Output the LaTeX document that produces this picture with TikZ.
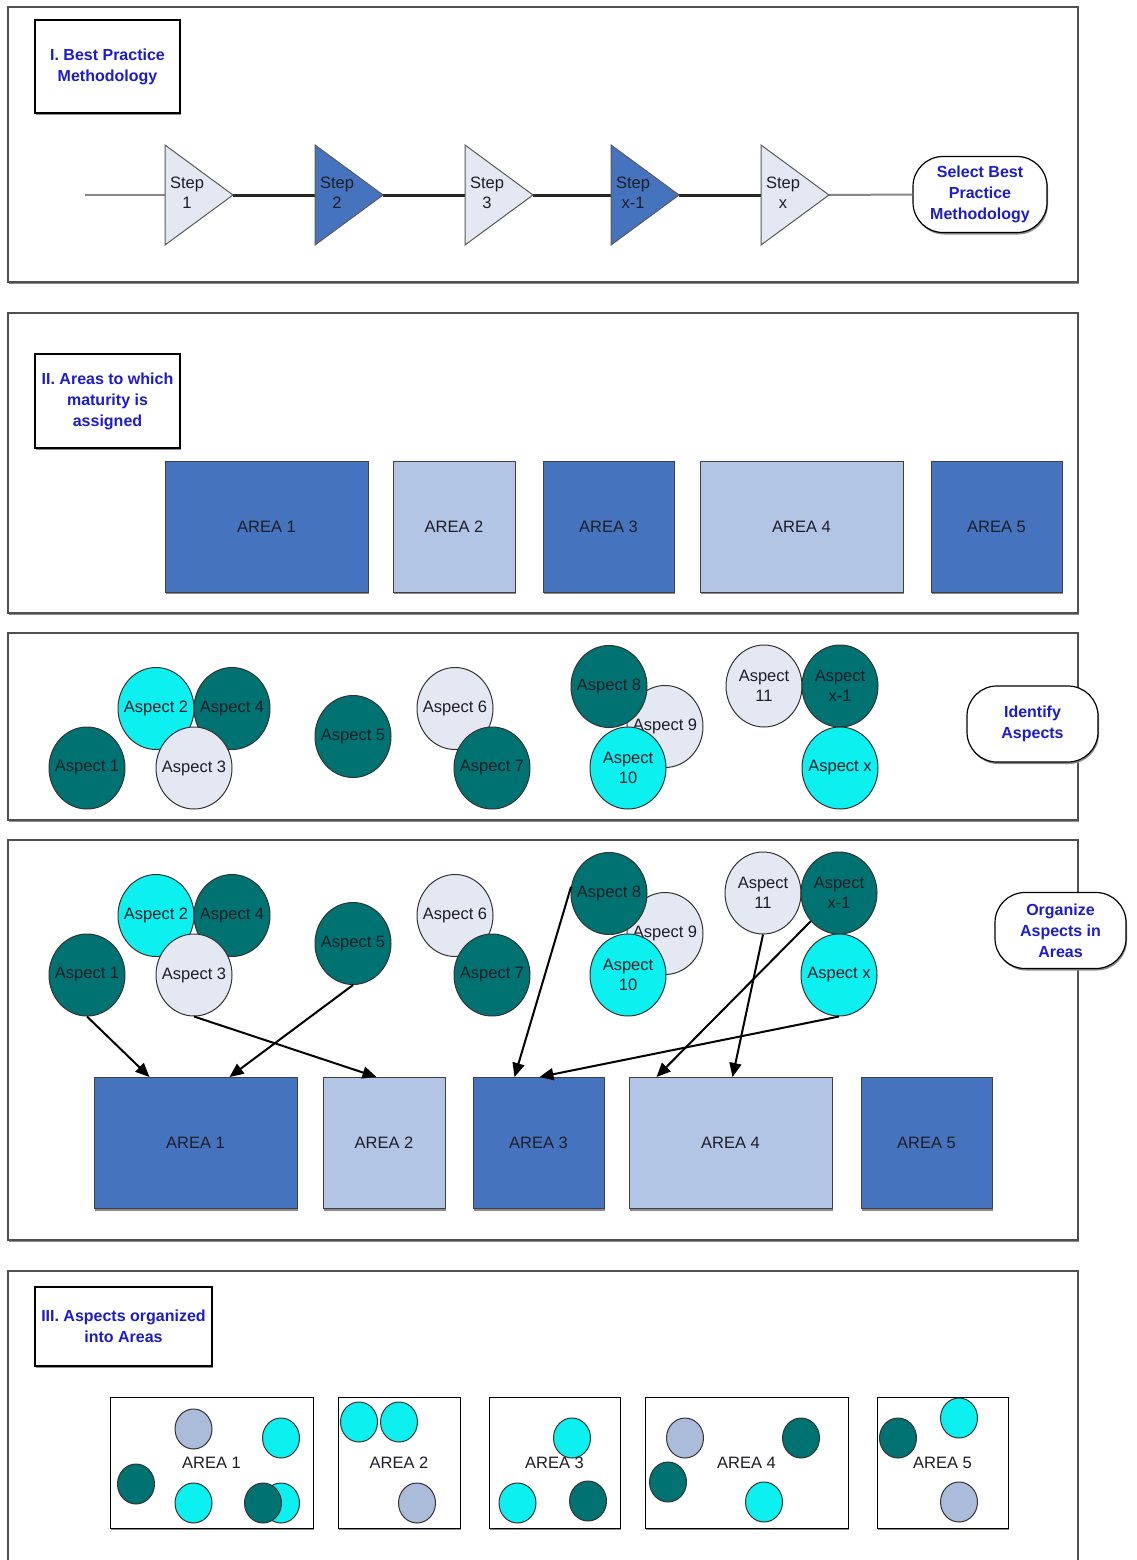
\documentclass[tikz,border=0pt]{standalone}
\usepackage{fontspec}
\setmainfont{Liberation Sans}
\usetikzlibrary{shapes.geometric,arrows.meta,shadows}

\definecolor{aspteal}{RGB}{0,114,114}
\definecolor{aspcyan}{RGB}{12,240,240}
\definecolor{asppale}{RGB}{228,232,243}
\definecolor{areadark}{RGB}{70,115,190}
\definecolor{arealight}{RGB}{178,197,228}
\definecolor{dotblue}{RGB}{170,188,218}
\definecolor{headblue}{RGB}{28,28,205}
\definecolor{framegray}{RGB}{80,80,80}
\definecolor{linegray}{RGB}{135,135,135}
\definecolor{textdark}{RGB}{30,30,40}

\begin{document}
\begin{tikzpicture}[x=1pt,y=-1pt,
  plaintxt/.style={font=\fontsize{16.5}{20}\selectfont, text=textdark, align=center},
  headtxt/.style={font=\bfseries\fontsize{16}{21}\selectfont, text=headblue, align=center},
  softshadow/.style={drop shadow={shadow xshift=1pt, shadow yshift=-2pt, fill=black!45, opacity=1}},
  panelframe/.style={draw=framegray, line width=1.5pt, fill=white, softshadow},
  titlebox/.style={headtxt, draw=black, line width=1.2pt, fill=white, inner sep=0pt, softshadow},
  goalnode/.style={headtxt, draw=black, line width=1.2pt, fill=white, rounded corners=30pt,
                   minimum width=134pt, minimum height=76pt, inner sep=0pt, softshadow},
  stepshape/.style={draw=black!65, line width=1pt},
  areabox/.style={plaintxt, draw=black!75, line width=1pt, minimum height=131pt, inner sep=0pt, softshadow},
  aspnode/.style={ellipse, draw=black!80, line width=1pt, minimum width=76pt, minimum height=82pt,
                  inner sep=0pt, label={[plaintxt]center:#1}},
  pip/.style={ellipse, draw=black!80, line width=1pt, minimum width=37pt, minimum height=40pt, inner sep=0pt},
  feed/.style={line width=2pt, -{Triangle[length=14pt,width=12pt]}},
]
\useasboundingbox (0,0) rectangle (1136,1560);
\fill[white] (0,0) rectangle (1136,1560);

% ---------------- I. Best practice methodology ----------------
\draw[panelframe] (8,7) rectangle (1078,282);
\node[titlebox, minimum width=145pt, minimum height=93pt] (t1) at (107.5,66.5) {I. Best Practice\\Methodology};

\coordinate (lead) at (85,195);
\coordinate (s1in) at (165,195); \coordinate (s1out) at (233,195);
\coordinate (s2in) at (315,195); \coordinate (s2out) at (383,195);
\coordinate (s3in) at (465,195); \coordinate (s3out) at (533,195);
\coordinate (s4in) at (611,195); \coordinate (s4out) at (679,195);
\coordinate (s5in) at (761,195); \coordinate (s5out) at (829,195);
\node[goalnode] (sel) at (980,194.5) {Select Best\\Practice\\Methodology};

\draw[linegray, line width=2pt] (lead) -- (s1in);
\draw[black!85, line width=3pt] (s1out) -- (s2in);
\draw[black!85, line width=3pt] (s2out) -- (s3in);
\draw[black!85, line width=3pt] (s3out) -- (s4in);
\draw[black!85, line width=3pt] (s4out) -- (s5in);
\draw[linegray, line width=2pt] (s5out) -- (sel.west);

\filldraw[stepshape, fill=asppale]  (165,145) -- (s1out) -- (165,245) -- cycle;
\filldraw[stepshape, fill=areadark] (315,145) -- (s2out) -- (315,245) -- cycle;
\filldraw[stepshape, fill=asppale]  (465,145) -- (s3out) -- (465,245) -- cycle;
\filldraw[stepshape, fill=areadark] (611,145) -- (s4out) -- (611,245) -- cycle;
\filldraw[stepshape, fill=asppale]  (761,145) -- (s5out) -- (761,245) -- cycle;
\node[plaintxt] (s1) at (187,193) {Step\\1};
\node[plaintxt] (s2) at (337,193) {Step\\2};
\node[plaintxt] (s3) at (487,193) {Step\\3};
\node[plaintxt] (s4) at (633,193) {Step\\x-1};
\node[plaintxt] (s5) at (783,193) {Step\\x};

% ---------------- II. Areas ----------------
\draw[panelframe] (8,313) rectangle (1078,613);
\node[titlebox, minimum width=145pt, minimum height=94pt] (t2) at (107.5,401) {II. Areas to which\\maturity is\\assigned};
\node[areabox, fill=areadark,  minimum width=203pt] (a1) at (266.5,526.5) {AREA 1};
\node[areabox, fill=arealight, minimum width=122pt] (a2) at (454,526.5) {AREA 2};
\node[areabox, fill=areadark,  minimum width=131pt] (a3) at (608.5,526.5) {AREA 3};
\node[areabox, fill=arealight, minimum width=203pt] (a4) at (801.5,526.5) {AREA 4};
\node[areabox, fill=areadark,  minimum width=131pt] (a5) at (996.5,526.5) {AREA 5};

% ---------------- Identify aspects ----------------
\draw[panelframe] (8,633) rectangle (1078,820);
\node[aspnode={Aspect 1}, fill=aspteal] (i1) at (87,768) {};
\node[aspnode={Aspect 2}, fill=aspcyan] (i2) at (156,708.5) {};
\node[aspnode={Aspect 4}, fill=aspteal] (i4) at (232,708.5) {};
\node[aspnode={Aspect 3}, fill=asppale] (i3) at (194,768) {};
\node[aspnode={Aspect 5}, fill=aspteal] (i5) at (353,736.5) {};
\node[aspnode={Aspect 6}, fill=asppale] (i6) at (455,708.5) {};
\node[aspnode={Aspect 7}, fill=aspteal] (i7) at (492,768) {};
\node[aspnode={Aspect 9}, fill=asppale] (i9) at (665,726.5) {};
\node[aspnode={Aspect 8}, fill=aspteal] (i8) at (609,686.5) {};
\node[aspnode={Aspect\\10}, fill=aspcyan] (i10) at (628,768) {};
\node[aspnode={Aspect\\11}, fill=asppale] (i11) at (764,686) {};
\node[aspnode={Aspect\\x-1}, fill=aspteal] (ix1) at (840,686) {};
\node[aspnode={Aspect x}, fill=aspcyan] (ix) at (840,768) {};
\node[goalnode, minimum width=131pt] (idf) at (1032.5,724) {Identify\\Aspects};

% ---------------- Organize aspects in areas ----------------
\draw[panelframe] (8,840) rectangle (1078,1240);
\node[aspnode={Aspect 1}, fill=aspteal] (o1) at (87,975) {};
\node[aspnode={Aspect 2}, fill=aspcyan] (o2) at (156,915.5) {};
\node[aspnode={Aspect 4}, fill=aspteal] (o4) at (232,915.5) {};
\node[aspnode={Aspect 3}, fill=asppale] (o3) at (194,975) {};
\node[aspnode={Aspect 5}, fill=aspteal] (o5) at (353,943.5) {};
\node[aspnode={Aspect 6}, fill=asppale] (o6) at (455,915.5) {};
\node[aspnode={Aspect 7}, fill=aspteal] (o7) at (492,975) {};
\node[aspnode={Aspect 9}, fill=asppale] (o9) at (665,933.5) {};
\node[aspnode={Aspect 8}, fill=aspteal] (o8) at (609,893.5) {};
\node[aspnode={Aspect\\10}, fill=aspcyan] (o10) at (628,975) {};
\node[aspnode={Aspect\\11}, fill=asppale] (o11) at (763,893) {};
\node[aspnode={Aspect\\x-1}, fill=aspteal] (ox1) at (839,893) {};
\node[aspnode={Aspect x}, fill=aspcyan] (ox) at (839,975) {};
\node[goalnode, minimum width=131pt] (org) at (1060.5,930.5) {Organize\\Aspects in\\Areas};

\node[areabox, fill=areadark,  minimum width=203pt] (oa1) at (195.5,1143) {AREA 1};
\node[areabox, fill=arealight, minimum width=122pt] (oa2) at (384,1143) {AREA 2};
\node[areabox, fill=areadark,  minimum width=131pt] (oa3) at (538.5,1143) {AREA 3};
\node[areabox, fill=arealight, minimum width=203pt] (oa4) at (730.5,1143) {AREA 4};
\node[areabox, fill=areadark,  minimum width=131pt] (oa5) at (926.5,1143) {AREA 5};

\draw[feed] (o1.south) -- ([xshift=56pt]oa1.north west);
\draw[feed] (o5.south) -- ([xshift=136pt]oa1.north west);
\draw[feed] (o3.south) -- ([xshift=54pt]oa2.north west);
\draw[feed] (o8.170) -- ([xshift=42pt]oa3.north west);
\draw[feed] (ox.south) -- ([xshift=67pt]oa3.north west);
\draw[feed] (ox1.225) -- ([xshift=28pt]oa4.north west);
\draw[feed] (o11.south) -- ([xshift=104pt]oa4.north west);

% ---------------- III. Aspects organized into areas ----------------
\draw[panelframe] (8,1271) rectangle (1078,1590);
\node[titlebox, minimum width=177pt, minimum height=79pt] (t3) at (123.5,1326.5) {III. Aspects organized\\into Areas};

\node[areabox, fill=white, draw=black, minimum width=203pt] (r1) at (211.5,1462.5) {AREA 1};
\node[areabox, fill=white, draw=black, minimum width=122pt] (r2) at (399,1462.5) {AREA 2};
\node[areabox, fill=white, draw=black, minimum width=131pt] (r3) at (554.5,1462.5) {AREA 3};
\node[areabox, fill=white, draw=black, minimum width=203pt] (r4) at (746.5,1462.5) {AREA 4};
\node[areabox, fill=white, draw=black, minimum width=131pt] (r5) at (942.5,1462.5) {AREA 5};

% area 1 members
\node[pip, fill=dotblue] (p11) at (193.5,1429) {};
\node[pip, fill=aspcyan] (p12) at (281,1438) {};
\node[pip, fill=aspteal] (p13) at (136,1484) {};
\node[pip, fill=aspcyan] (p14) at (193.5,1503) {};
\node[pip, fill=aspcyan] (p15) at (281,1503) {};
\node[pip, fill=aspteal] (p16) at (263,1503) {};
% area 2 members
\node[pip, fill=aspcyan] (p21) at (359,1422) {};
\node[pip, fill=aspcyan] (p22) at (399,1422) {};
\node[pip, fill=dotblue] (p23) at (417,1503) {};
% area 3 members
\node[pip, fill=aspcyan] (p31) at (572,1438) {};
\node[pip, fill=aspcyan] (p32) at (517.5,1503) {};
\node[pip, fill=aspteal] (p33) at (588,1501) {};
% area 4 members
\node[pip, fill=dotblue] (p41) at (685,1438) {};
\node[pip, fill=aspteal] (p42) at (801,1438) {};
\node[pip, fill=aspteal] (p43) at (668,1482) {};
\node[pip, fill=aspcyan] (p44) at (764,1502) {};
% area 5 members
\node[pip, fill=aspteal] (p51) at (898,1438) {};
\node[pip, fill=aspcyan] (p52) at (959,1418) {};
\node[pip, fill=dotblue] (p53) at (959,1502) {};
\end{tikzpicture}
\end{document}
